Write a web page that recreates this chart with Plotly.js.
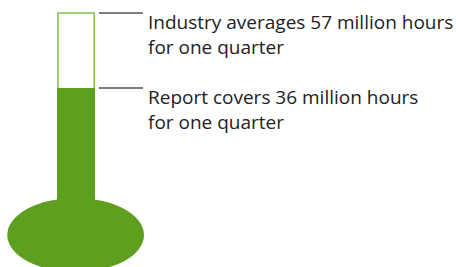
<!DOCTYPE html>
<html>
<head>
<meta charset="utf-8">
<script src="https://cdn.plot.ly/plotly-3.0.1.min.js"></script>
<style>html,body{margin:0;padding:0;background:#fff;}#chart{width:456px;height:267px;}</style>
</head>
<body>
<div id="chart"></div>
<script>
// Data (million hours for one quarter)
var labels = ["Industry averages", "Report covers"];
var values = [57, 36];
var texts = ["Industry averages 57 million hours<br>for one quarter",
             "Report covers 36 million hours<br>for one quarter"];
var bulbCenter = -5.15;   // value-axis position of the bulb centre
var bulbHalf = 10.36;     // half-height of bulb in value units

var green = "#5f9f20";
var lightGreen = "#86bd4d";

var trace = {
  type: "bar",
  x: [76],
  y: [values[1] - bulbCenter],
  base: [bulbCenter],
  width: [38],
  marker: {color: green, line: {width: 0}},
  hoverinfo: "skip",
  showlegend: false
};

var shapes = [
  // tube outline up to industry average
  {type: "rect", xref: "x", yref: "y", x0: 58, x1: 94.2, y0: bulbCenter, y1: values[0],
   line: {color: lightGreen, width: 1.5}, fillcolor: "rgba(0,0,0,0)", layer: "below"},
  // bulb
  {type: "circle", xref: "x", yref: "y", x0: 7.3, x1: 144, y0: bulbCenter - bulbHalf, y1: bulbCenter + bulbHalf,
   line: {width: 0}, fillcolor: green, layer: "above"}
];
var annotations = [];
values.forEach(function (v, i) {
  shapes.push({type: "line", xref: "x", yref: "y", x0: 99, x1: 143, y0: v, y1: v,
               line: {color: "#555555", width: 1.5}});
  annotations.push({xref: "x", yref: "y", x: 146, y: v, xanchor: "left", yanchor: "top",
                    align: "left", showarrow: false, text: texts[i], yshift: 6,
                    font: {family: "Open Sans", size: 19, color: "#222222"}});
});

var layout = {
  width: 456, height: 267,
  margin: {l: 0, r: 0, t: 0, b: 0},
  paper_bgcolor: "#ffffff", plot_bgcolor: "#ffffff",
  xaxis: {range: [0, 456], visible: false, fixedrange: true},
  yaxis: {range: [-14.11, 60.65], visible: false, fixedrange: true},
  shapes: shapes,
  annotations: annotations,
  bargap: 0
};
Plotly.newPlot("chart", [trace], layout, {displayModeBar: false, staticPlot: true});
</script>
</body>
</html>
